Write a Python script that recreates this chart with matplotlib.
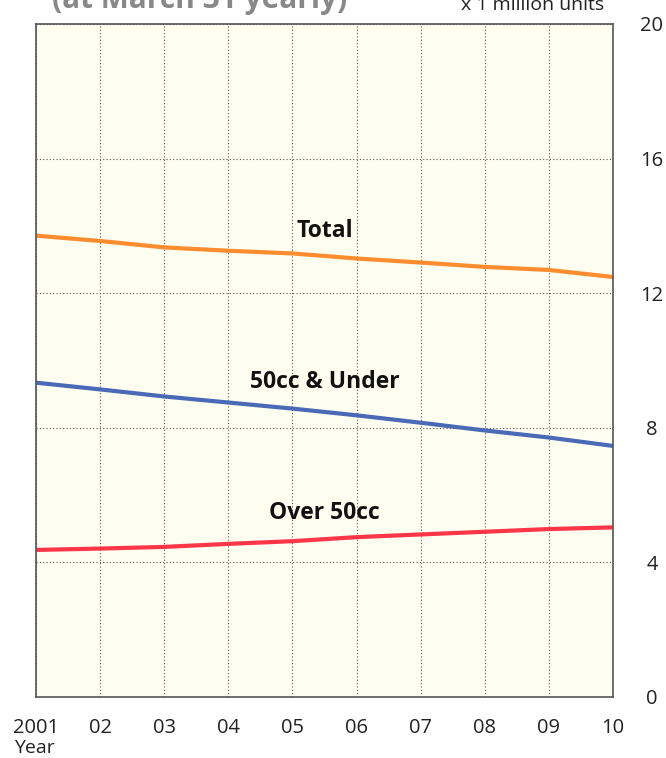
import matplotlib
matplotlib.use("Agg")
import matplotlib.pyplot as plt

plt.rcParams['font.family'] = ['Open Sans', 'DejaVu Sans']

years = [2001, 2002, 2003, 2004, 2005, 2006, 2007, 2008, 2009, 2010]
year_labels = ["2001", "02", "03", "04", "05", "06", "07", "08", "09", "10"]
total = [13.71, 13.55, 13.36, 13.26, 13.18, 13.03, 12.91, 12.78, 12.69, 12.48]
under_50cc = [9.34, 9.14, 8.93, 8.75, 8.57, 8.37, 8.15, 7.92, 7.71, 7.46]
over_50cc = [4.37, 4.41, 4.46, 4.55, 4.63, 4.75, 4.83, 4.91, 4.99, 5.04]
y_ticks = [0, 4, 8, 12, 16, 20]

fig = plt.figure(figsize=(6.66, 7.58), dpi=100)
ax = fig.add_axes([0.0541, 0.0805, 0.8664, 0.8879])
ax.set_facecolor("#fefef0")

ax.plot(years, total, color="#ff8c2e", lw=3.0, solid_capstyle="butt")
ax.plot(years, under_50cc, color="#4a6ab8", lw=3.0, solid_capstyle="butt")
ax.plot(years, over_50cc, color="#ff3548", lw=3.0, solid_capstyle="butt")

ax.set_xlim(years[0], years[-1])
ax.set_ylim(0, 20)
ax.set_xticks(years)
ax.set_xticklabels(year_labels)
ax.set_yticks(y_ticks)
ax.yaxis.tick_right()
ax.tick_params(axis="both", length=0, labelsize=14.5, colors="#222222")
ax.tick_params(axis="x", pad=15)
ax.tick_params(axis="y", pad=28)
for lbl in ax.get_yticklabels():
    lbl.set_horizontalalignment("center")

ax.grid(True, linestyle=(0, (1, 2)), color="#555555", lw=0.8)
for s in ax.spines.values():
    s.set_color("#555555")
    s.set_linewidth(1.2)

ax.text(2005.5, total[4] + 0.66, "Total", ha="center", va="center",
        fontsize=16.5, fontweight="bold", color="#111111")
ax.text(2005.5, under_50cc[4] + 0.80, "50cc & Under", ha="center", va="center",
        fontsize=16.5, fontweight="bold", color="#111111")
ax.text(2005.5, over_50cc[4] + 0.83, "Over 50cc", ha="center", va="center",
        fontsize=16.5, fontweight="bold", color="#111111")

fig.text(0.052, 1 - 748 / 758, "Year", ha="center", va="center", fontsize=14, color="#222222")
fig.text(604 / 666, 1 - 5 / 758, "x 1 million units", ha="right", va="center",
         fontsize=14, color="#222222")
fig.text(52 / 666, 1 - 8 / 758, "(at March 31 yearly)", ha="left", va="baseline",
         fontsize=21.5, fontweight="bold", color="#888888")

fig.savefig("out.png", dpi=100)
